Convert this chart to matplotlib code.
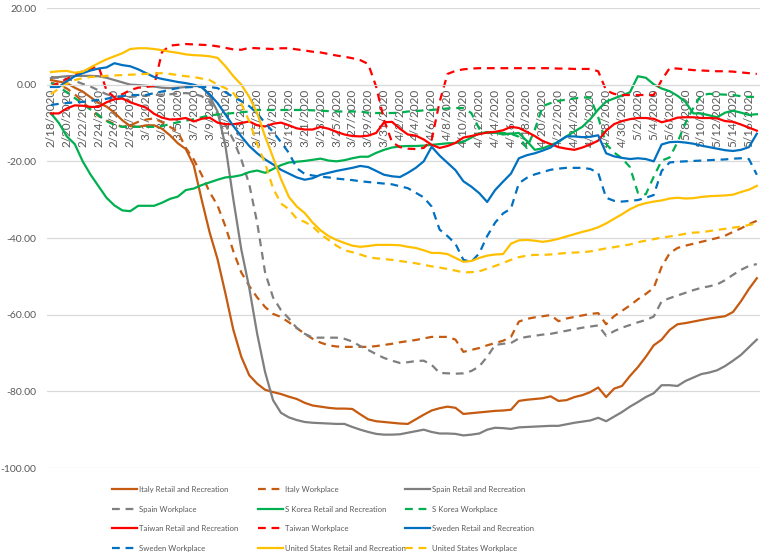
import matplotlib.pyplot as plt
import numpy as np
import pandas as pd

# daily values, 2/18/2020 .. 5/17/2020
dates = pd.date_range('2020-02-18', periods=90)
date_labels = [f"{d.month}/{d.day}/{d.year}" for d in dates]

italy_retail = [1.2, 0.8, 0.4, -0.8, -1.8, -3.3, -4.8, -5.7, -7.3, -9.3,
                -10.8, -11, -10.6, -10.6, -11.5, -13.2, -15.3, -16.8, -21, -30,
                -38.5, -45.5, -54.5, -64, -71, -75.8, -78, -79.6, -80.2, -80.7,
                -81.4, -82, -83, -83.7, -84, -84.3, -84.5, -84.5, -84.6, -86,
                -87.3, -87.8, -88, -88.2, -88.4, -88.5, -87.3, -86.1, -85, -84.4,
                -84, -84.3, -85.9, -85.7, -85.5, -85.3, -85.1, -85, -84.8, -82.5,
                -82.2, -82, -81.8, -81.3, -82.5, -82.3, -81.5, -81, -80.2, -79,
                -81.5, -79.3, -78.6, -76, -73.7, -71, -68, -66.5, -64, -62.5,
                -62.2, -61.8, -61.4, -61, -60.7, -60.4, -59.3, -56.5, -53.3, -50.5]
italy_work = [0.5, 0, -1, -2.5, -4.5, -6.5, -8.2, -9.4, -10.2, -11,
              -10.6, -9.7, -9.1, -8.8, -9.8, -11, -12.3, -16.5, -19.5, -23.5,
              -28, -31.5, -37, -43.5, -49, -52.5, -55.5, -58, -59.8, -60.6,
              -62, -63.5, -65, -66.3, -67.3, -68, -68.3, -68.4, -68.4, -68.4,
              -68.4, -68.2, -67.9, -67.6, -67.2, -66.9, -66.6, -66.2, -65.8, -65.8,
              -65.8, -66.5, -69.7, -69.2, -68.7, -68, -67.4, -66.8, -65.8, -61.8,
              -61.1, -60.7, -60.4, -60.1, -61.7, -61, -60.6, -60.2, -59.8, -59.6,
              -62.5, -60.4, -59, -57.6, -56, -54.6, -53, -47.5, -44, -42.6,
              -42, -41.5, -41, -40.5, -40, -39.4, -38.4, -37.5, -36.4, -35.5]
spain_retail = [1.7, 2.0, 2.2, 2.3, 2.3, 2.3, 2.2, 1.8, 1.2, 0.6,
                0.0, -0.1, -0.3, -0.5, -0.8, -0.9, -0.8, -0.6, -0.4, -0.3,
                -3, -7, -16, -30, -43, -53, -65, -75, -82.3, -85.6,
                -86.8, -87.5, -88, -88.2, -88.3, -88.4, -88.5, -88.5, -89.3, -90,
                -90.6, -91.1, -91.3, -91.3, -91.2, -90.8, -90.4, -90, -90.6, -91,
                -91, -91.1, -91.5, -91.3, -91, -90, -89.5, -89.6, -89.8, -89.4,
                -89.3, -89.2, -89.1, -89, -89, -88.6, -88.2, -87.9, -87.6, -86.9,
                -87.8, -86.6, -85.4, -84, -82.8, -81.5, -80.5, -78.4, -78.4, -78.6,
                -77.3, -76.4, -75.5, -75.1, -74.5, -73.4, -72, -70.5, -68.5, -66.5]
spain_work = [2, 1.8, 1.5, 1, 0.2, -0.5, -1.5, -2.5, -3, -3.3,
              -3.2, -3, -2.8, -2.7, -2.6, -2.5, -2.3, -2.2, -2.4, -3,
              -4.5, -7.5, -10.5, -14.4, -19.5, -26, -36, -49, -55.5, -58.8,
              -61, -63.5, -65, -66, -66, -66, -66, -66.3, -67, -68.2,
              -69.2, -70.3, -71.3, -72, -72.6, -72.4, -72.1, -72, -73.1, -75.2,
              -75.3, -75.4, -75.3, -74.7, -73.5, -71, -67.9, -67.6, -67.4, -66.2,
              -65.8, -65.5, -65.2, -65, -64.6, -64.2, -63.8, -63.4, -63.1, -62.8,
              -65.5, -64.3, -63.4, -62.7, -62, -61.4, -60.5, -56.5, -55.7, -55,
              -54.3, -53.6, -53, -52.6, -52.1, -51, -49.6, -48.3, -47.3, -46.8]
korea_retail = [-7.5, -10, -13.5, -15.5, -20, -23.5, -26.5, -29.5, -31.5, -32.8,
                -33, -31.6, -31.6, -31.6, -30.8, -29.8, -29.2, -27.5, -27.1, -26.2,
                -25.5, -24.8, -24.2, -24, -23.6, -22.8, -22.4, -23, -22, -21,
                -20.3, -20.1, -19.9, -19.6, -19.3, -19.8, -20, -19.7, -19.2, -18.8,
                -18.8, -17.8, -17, -16.4, -16.1, -16, -16, -15.9, -15.7, -15.5,
                -15.3, -15.2, -14.9, -13.8, -12.7, -12.4, -12.5, -13, -12.8, -12.6,
                -14.7, -17, -16.6, -15.8, -14.9, -13.5, -12.2, -11, -9, -6.5,
                -4.4, -3.6, -2.8, -2, 2.2, 1.8, 0.1, -1, -1.7, -2.9,
                -4.5, -7.5, -7.5, -8, -8.5, -7.3, -6.8, -7.3, -7.9, -7.7]
korea_work = [0.4, -0.5, -2, -3.5, -5, -6.5, -8, -9.5, -10.5, -11,
              -11, -11, -11, -11, -10.8, -10.3, -9.8, -9.4, -9, -8.5,
              -8, -7.8, -7.6, -7.4, -7.2, -7, -6.6, -6.6, -6.6, -6.6,
              -6.6, -6.6, -6.6, -6.7, -6.8, -6.9, -7, -7, -7, -7,
              -7.3, -7.4, -7.4, -7.4, -7.3, -7, -6.9, -6.7, -6.6, -6.4,
              -6.2, -6.1, -6.1, -7.4, -11.5, -12.6, -12.6, -12.6, -12.8, -13.6,
              -16.5, -11.8, -5.6, -4.8, -4.2, -3.9, -3.6, -3.3, -3.4, -8.5,
              -15.5, -17.7, -19.2, -21.5, -28.2, -28.6, -24, -19.8, -19, -15,
              -10, -6, -2.7, -2.4, -2.5, -2.6, -2.7, -3, -3.2, -3.2]
taiwan_retail = [-7.5, -7.5, -6.2, -5.4, -5.5, -5.8, -5.8, -4.6, -3.8, -3.6,
                 -4.6, -5.3, -6, -7.6, -8.6, -9.1, -9, -8.7, -9.6, -8.9,
                 -8.6, -9.9, -10.3, -10.3, -10, -9.6, -10.6, -10.9, -10.2, -9.9,
                 -10.6, -11.4, -11.7, -11.7, -11, -11.5, -12.3, -13, -13.4, -13.5,
                 -13.3, -12.6, -9.8, -9.7, -11.5, -13, -13.3, -14.3, -15.7, -16.5,
                 -16, -15.2, -13.8, -13.4, -12.9, -12.5, -12.3, -11.9, -11, -11.3,
                 -12.3, -13.4, -14.7, -15.5, -16.3, -16.7, -17, -16.4, -15.6, -14.6,
                 -12, -10.3, -9.5, -9, -8.7, -8.7, -8.9, -9.8, -9.3, -8.6,
                 -8.5, -8.5, -8.7, -8.7, -8.8, -9.5, -9.7, -10.4, -11.2, -12]
taiwan_work = [-0.5, 0.5, 1.5, 2.5, 3.5, 4.2, 4.8, -1.5, -3.3, -2.5,
               -1.4, -0.8, -0.6, -0.3, 8.5, 10.2, 10.4, 10.6, 10.5, 10.4,
               10.3, 10, 9.6, 9.2, 9.1, 9.6, 9.5, 9.4, 9.3, 9.5,
               9.5, 9.2, 8.9, 8.6, 8.4, 8, 7.6, 7.3, 6.9, 6.4,
               5.4, -0.5, -9.2, -15, -16.3, -16.7, -16.8, -16.5, -14.4, -4.5,
               2.8, 3.6, 4, 4.2, 4.3, 4.3, 4.3, 4.3, 4.3, 4.3,
               4.3, 4.3, 4.3, 4.3, 4.2, 4.2, 4.1, 4.1, 4.1, 3.5,
               -1.5, -2.4, -2.7, -2.7, -2.7, -2.7, -2.7, 1.2, 4.3, 4.2,
               4, 3.8, 3.7, 3.6, 3.5, 3.5, 3.4, 3.2, 3, 2.8]
sweden_retail = [-0.6, -0.6, 0.9, 2.2, 3, 3.7, 4.2, 4.5, 5.6, 5.1,
                 4.8, 4, 3, 2, 1.5, 1.1, 0.7, 0.4, 0, -0.7,
                 -2.5, -4.8, -7.8, -10.8, -13.5, -16, -17.9, -19.5, -20.8, -22.2,
                 -23.2, -24.2, -24.8, -24.4, -23.5, -23, -22.5, -22.1, -21.7, -21.2,
                 -21.5, -22.5, -23.5, -23.9, -24.1, -23, -21.7, -20, -16.2, -18.5,
                 -20.4, -22.3, -25.2, -26.6, -28.3, -30.6, -27.5, -25.3, -23.2, -19.2,
                 -18.4, -17.9, -17.2, -16.4, -14.8, -13.5, -13.5, -13.7, -13.6, -13.2,
                 -17.9, -18.7, -19.1, -19.4, -19.2, -19.4, -20, -15.6, -15, -14.9,
                 -15.1, -15.4, -15.9, -16.3, -16.7, -17.1, -17.3, -17, -16.3, -12.8]
sweden_work = [-5.3, -5, -4.8, -4.6, -4.5, -4.2, -4, -3.7, -3.2, -3,
               -2.7, -2.7, -2.7, -2.2, -1.8, -1.3, -0.9, -0.7, -0.6, -0.6,
               -0.6, -0.9, -2, -3.2, -4.3, -5.6, -7.5, -10, -12.3, -15,
               -17.8, -21.8, -23.3, -23.7, -24, -24.2, -24.5, -24.7, -24.9, -25.2,
               -25.4, -25.6, -25.8, -26, -26.5, -27, -28.2, -29.4, -31.8, -37.8,
               -39.5, -41.5, -45.7, -46.2, -44, -39.5, -36, -33.6, -32.3, -25.7,
               -24.3, -23.4, -22.8, -22.2, -21.9, -21.7, -21.7, -21.7, -22, -23,
               -29.5, -30.3, -30.5, -30.3, -30.1, -29.5, -28.8, -22.5, -20.3, -20.1,
               -20, -19.9, -19.8, -19.7, -19.6, -19.5, -19.3, -19.2, -19.4, -23.5]
us_retail = [3.3, 3.5, 3.6, 3.1, 3.4, 4.5, 5.6, 6.6, 7.4, 8.2,
             9.3, 9.5, 9.5, 9.3, 9, 8.6, 8.3, 7.9, 7.7, 7.6,
             7.4, 7, 4.8, 2.2, 0, -3.2, -7.4, -13.5, -19, -24.6,
             -29.3, -31.8, -33.5, -36, -38, -39.5, -40.5, -41.3, -42, -42.3,
             -42.1, -41.8, -41.8, -41.8, -41.9, -42.3, -42.6, -43.2, -43.9, -43.9,
             -44.2, -45.2, -46.2, -46, -45.2, -44.6, -44.3, -44.2, -41.5, -40.6,
             -40.5, -40.7, -41, -40.7, -40.2, -39.6, -39, -38.4, -37.9, -37.2,
             -36.2, -35, -33.8, -32.5, -31.5, -30.9, -30.5, -30.2, -29.7, -29.5,
             -29.7, -29.6, -29.3, -29.1, -29, -28.9, -28.7, -28, -27.4, -26.4]
us_work = [-2.5, -1, 0.2, 1.2, 1.7, 2, 2.1, 2.3, 2.4, 2.5,
           2.6, 2.7, 2.8, 2.9, 3, 2.8, 2.5, 2.2, 2, 1.6,
           1.2, 0, -0.9, -2.2, -5, -9.5, -15.5, -20.5, -27, -31,
           -32.5, -35, -35.8, -37, -39, -40.5, -42, -43.2, -43.7, -44.3,
           -45, -45.3, -45.5, -45.7, -46, -46.3, -46.6, -47, -47.4, -47.7,
           -48.1, -48.5, -49, -48.9, -48.7, -48, -47.3, -46.5, -45.7, -45,
           -44.6, -44.4, -44.4, -44.3, -44.1, -43.9, -43.8, -43.7, -43.5, -43.1,
           -42.7, -42.4, -42, -41.7, -41.1, -40.7, -40.3, -39.9, -39.6, -39.3,
           -38.9, -38.6, -38.5, -38.2, -37.9, -37.6, -37.3, -37, -36.6, -36.2]

series = [
    ("Italy Retail and Recreation", italy_retail, '#C55A11', '-'),
    ("Italy Workplace", italy_work, '#C55A11', '--'),
    ("Spain Retail and Recreation", spain_retail, '#7F7F7F', '-'),
    ("Spain Workplace", spain_work, '#7F7F7F', '--'),
    ("S Korea Retail and Recreation", korea_retail, '#00B050', '-'),
    ("S Korea Workplace", korea_work, '#00B050', '--'),
    ("Taiwan Retail and Recreation", taiwan_retail, '#FF0000', '-'),
    ("Taiwan Workplace", taiwan_work, '#FF0000', '--'),
    ("Sweden Retail and Recreation", sweden_retail, '#0070C0', '-'),
    ("Sweden Workplace", sweden_work, '#0070C0', '--'),
    ("United States Retail and Recreation", us_retail, '#FFC000', '-'),
    ("United States Workplace", us_work, '#FFC000', '--'),
]

plt.rcParams['font.family'] = ['Lato', 'DejaVu Sans']
text_col = '#595959'
grid_col = '#D9D9D9'

fig = plt.figure(figsize=(7.6, 5.58), dpi=100)
ax = fig.add_axes([47 / 760, 1 - 468 / 558, 713 / 760, 460 / 558])

x = np.arange(len(dates))
handles = []
for label, vals, color, style in series:
    line, = ax.plot(x, vals, color=color, lw=1.6, label=label)
    if style == '--':
        line.set_dashes((3.5, 2.6))
    handles.append(line)

ax.set_xlim(-0.5, 89.4)
ax.set_ylim(-100, 20)
yt = np.arange(-100, 21, 20)
ax.set_yticks(yt)
ax.set_yticklabels(["{:.2f}".format(v) for v in yt])
ax.yaxis.grid(True, color=grid_col, lw=0.9)
ax.set_axisbelow(True)

ax.set_xticks(x[::2])
ax.set_xticklabels(date_labels[::2])
for s in ['top', 'right', 'left']:
    ax.spines[s].set_visible(False)
ax.spines['bottom'].set_position(('data', 0))
ax.spines['bottom'].set_color(grid_col)
ax.tick_params(axis='x', length=0, pad=3, labelsize=8.5, colors=text_col,
               labelrotation=90)
ax.tick_params(axis='y', length=0, pad=7.5, labelsize=7.5, colors=text_col)

# legend: three columns placed like the original, filled row by row
col_x = [112, 258, 405]
for c in range(3):
    hs = handles[c::3]
    fig.legend(hs, [h.get_label() for h in hs], loc='upper left',
               bbox_to_anchor=(col_x[c] / 760, 1 - 486 / 558),
               frameon=False, fontsize=5.6, labelcolor=text_col,
               handlelength=3.2, handletextpad=0.25, labelspacing=1.62,
               borderpad=0, borderaxespad=0)

fig.savefig('out.png', dpi=100)
